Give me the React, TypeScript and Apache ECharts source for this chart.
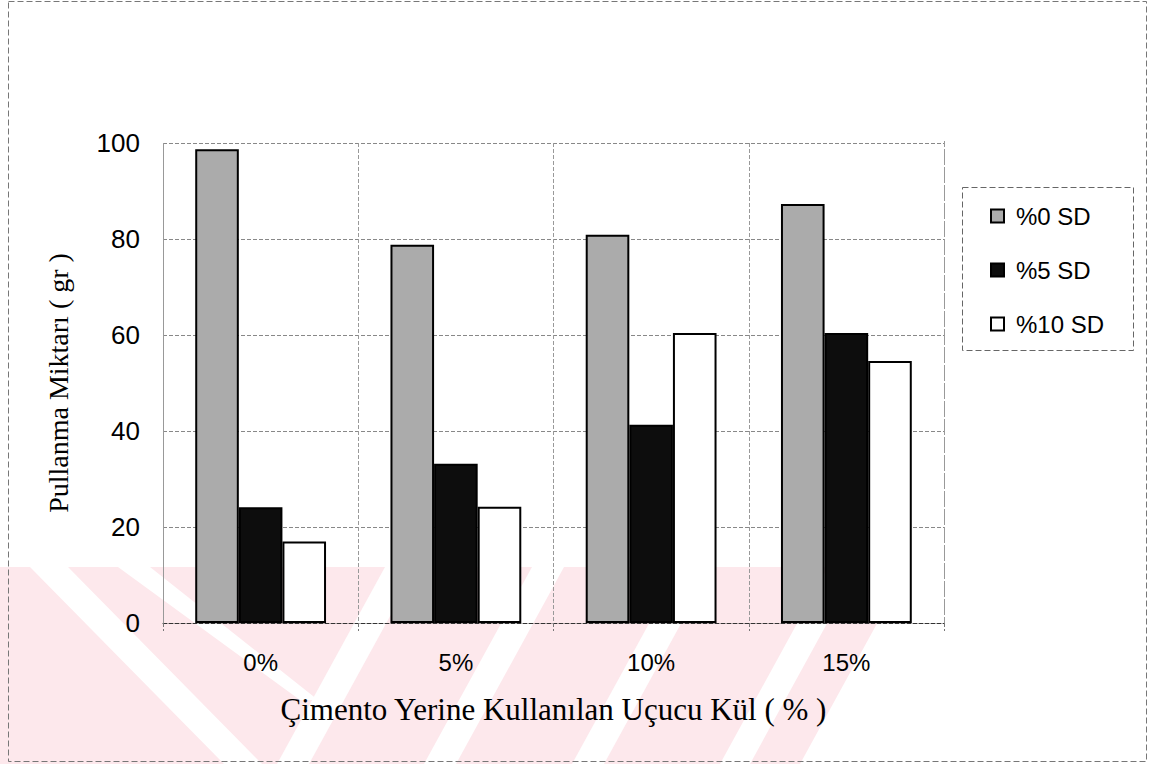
import React, { useEffect, useRef } from "react";
import * as echarts from "echarts";

const categories = ["0%", "5%", "10%", "15%"];
const seriesNames = ["%0 SD", "%5 SD", "%10 SD"];
const sd0 = [98.7, 78.8, 80.9, 87.3];
const sd5 = [24.1, 33.2, 41.3, 60.4];
const sd10 = [17.0, 24.2, 60.4, 54.6];
const yTicks = { min: 0, max: 100, interval: 20 };

const PINK = "#fde8ec";

function stripeSlash(xTop: number, w: number) {
  const dx = 108;
  return {
    type: "polygon",
    z: -9,
    silent: true,
    shape: { points: [[xTop, 567], [xTop + w, 567], [xTop + w - dx, 764], [xTop - dx, 764]] },
    style: { fill: "#ffffff" },
  };
}

export default function App() {
  const ref = useRef<HTMLDivElement>(null);
  useEffect(() => {
    document.body.style.margin = "0";
    const chart = echarts.init(ref.current!, null, { renderer: "svg" });
    const sans = "'Liberation Sans', Arial, sans-serif";
    const serif = "'Liberation Serif', 'Times New Roman', serif";
    const barStyle = (color: string) => ({ color, borderColor: "#000", borderWidth: 2 });
    chart.setOption({
      animation: false,
      backgroundColor: "#ffffff",
      grid: { left: 163, top: 143, width: 781, height: 480, containLabel: false },
      xAxis: {
        type: "category",
        data: categories,
        boundaryGap: true,
        axisLine: { show: true, lineStyle: { color: "#333", type: "dashed", width: 1 } },
        axisTick: { show: true, length: 8, lineStyle: { color: "#777", type: "dashed" } },
        axisLabel: { fontSize: 24, fontFamily: sans, color: "#000", margin: 27 },
        splitLine: { show: true, lineStyle: { color: "#999", type: "dashed", width: 1 } },
        name: "Çimento Yerine Kullanılan Uçucu Kül ( % )",
        nameLocation: "middle",
        nameGap: 71,
        nameTextStyle: { fontSize: 31, fontFamily: serif, color: "#000" },
      },
      yAxis: {
        type: "value",
        min: yTicks.min,
        max: yTicks.max,
        interval: yTicks.interval,
        axisLine: { show: true, lineStyle: { color: "#999", type: "dashed", width: 1 } },
        axisTick: { show: false },
        axisLabel: { fontSize: 26, fontFamily: sans, color: "#000", margin: 23 },
        splitLine: { show: true, lineStyle: { color: "#888", type: "dashed", width: 1 } },
        name: "Pullanma Miktarı ( gr )",
        nameLocation: "middle",
        nameGap: 91,
        nameRotate: 90,
        nameTextStyle: { fontSize: 28, fontFamily: serif, color: "#000" },
      },
      legend: {
        orient: "vertical",
        left: 990,
        top: 204,
        padding: 0,
        itemWidth: 13,
        itemHeight: 13,
        itemGap: 30,
        icon: "rect",
        data: seriesNames,
        textStyle: { fontSize: 24, fontFamily: sans, color: "#000", padding: [0, 0, 0, 7] },
      },
      graphic: [
        {
          type: "polygon",
          z: -10,
          silent: true,
          shape: { points: [[0, 567], [908, 567], [800, 764], [0, 764]] },
          style: { fill: PINK },
        },
        {
          type: "polygon",
          z: -9,
          silent: true,
          shape: { points: [[30, 567], [68, 567], [262, 764], [224, 764]] },
          style: { fill: "#ffffff" },
        },
        {
          type: "polygon",
          z: -9,
          silent: true,
          shape: { points: [[118, 567], [150, 567], [318, 700], [300, 700]] },
          style: { fill: "#ffffff" },
        },
        stripeSlash(385, 32),
        stripeSlash(532, 32),
        stripeSlash(680, 32),
        stripeSlash(828, 30),
        {
          type: "rect",
          silent: true,
          z: 10,
          shape: { x: 8.5, y: 1.5, width: 1138, height: 760 },
          style: { fill: "none", stroke: "#777", lineWidth: 1, lineDash: [6, 3] },
        },
        {
          type: "rect",
          silent: true,
          z: 10,
          shape: { x: 962.5, y: 187.5, width: 171, height: 163 },
          style: { fill: "none", stroke: "#666", lineWidth: 1, lineDash: [6, 3] },
        },
        {
          type: "line",
          silent: true,
          z: 10,
          shape: { x1: 944.5, y1: 141, x2: 944.5, y2: 623 },
          style: { stroke: "#999", lineWidth: 1, lineDash: [6, 3] },
        },
      ],
      series: [
        {
          name: seriesNames[0],
          type: "bar",
          data: sd0,
          barGap: "0%",
          barCategoryGap: "33%",
          itemStyle: barStyle("#ababab"),
        },
        {
          name: seriesNames[1],
          type: "bar",
          data: sd5,
          barGap: "0%",
          barCategoryGap: "33%",
          itemStyle: barStyle("#0d0d0d"),
        },
        {
          name: seriesNames[2],
          type: "bar",
          data: sd10,
          barGap: "0%",
          barCategoryGap: "33%",
          itemStyle: barStyle("#ffffff"),
        },
      ],
    });
    return () => chart.dispose();
  }, []);
  return <div ref={ref} style={{ width: 1159, height: 764 }} />;
}
